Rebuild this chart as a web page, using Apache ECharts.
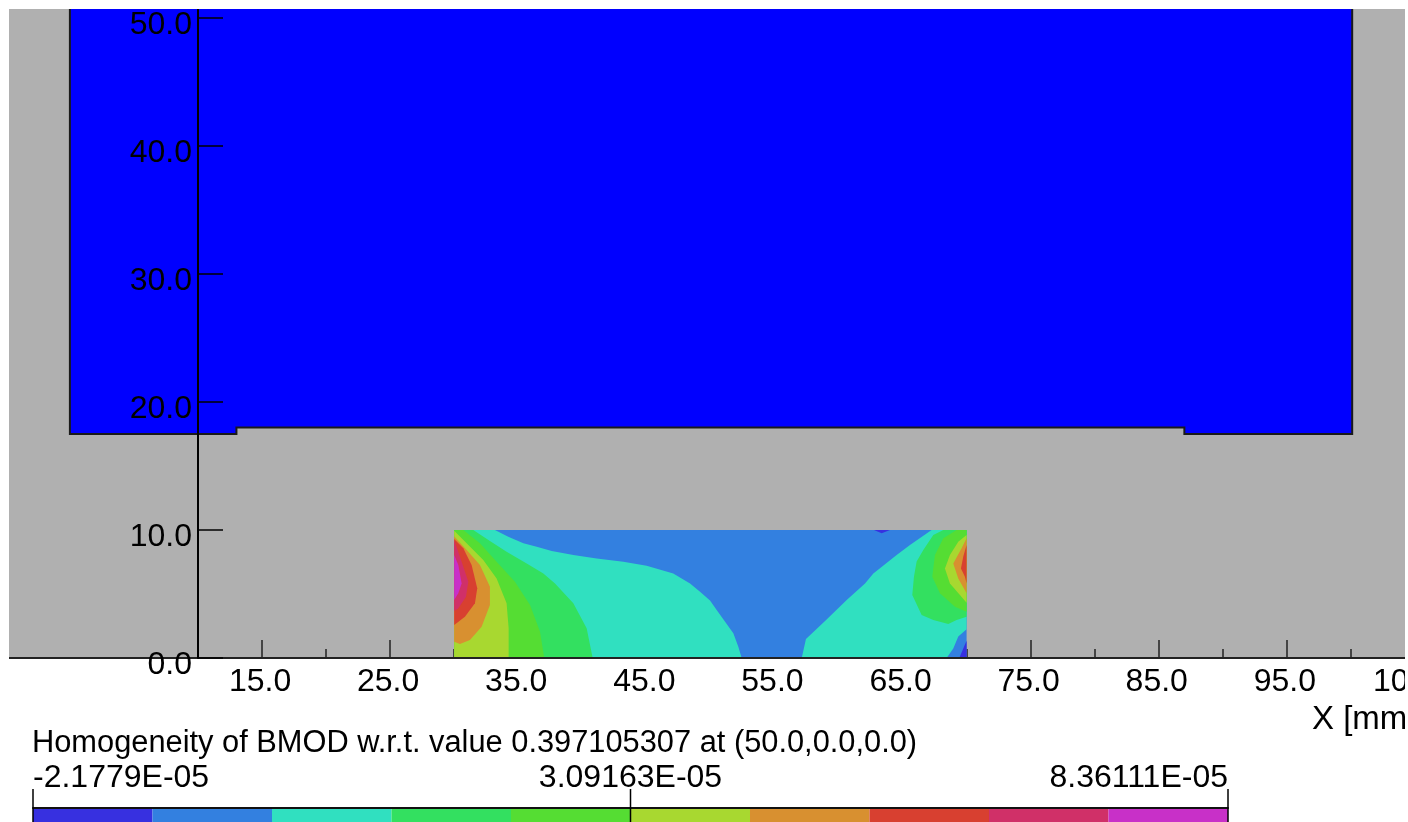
<!DOCTYPE html>
<html><head><meta charset="utf-8">
<style>html,body{margin:0;padding:0;background:#fff;overflow:hidden}
#w{position:absolute;left:9px;top:9px;width:1396px;height:813px;overflow:hidden}
#c{position:absolute;left:0;top:-29px;width:1560px;height:900px}</style>
<script src="https://cdn.jsdelivr.net/npm/echarts@6/dist/echarts.min.js"></script>
</head><body><div id="w"><div id="c"></div></div>
<script>
const titleText = 'Homogeneity of BMOD w.r.t. value 0.397105307 at (50.0,0.0,0.0)';
const xMajor = [15,25,35,45,55,65,75,85,95,105];
const xMinor = [20,30,40,50,60,70,80,90,100,110];
const yMajor = [0,10,20,30,40,50];
const classBounds = [-2.1779e-5,-1.1240e-5,-0.0701e-5,0.9838e-5,2.0377e-5,3.09163e-5,4.1455e-5,5.1994e-5,6.2533e-5,7.3072e-5,8.36111e-5];
const classColors = ['#3730E0','#3380E0','#30E0C0','#33E060','#55DD33','#A8D830','#D89030','#D84030','#D03068','#C830C8'];
const legendTicks = [-2.1779e-5,3.09163e-5,8.36111e-5];
const legendLabels = ['-2.1779E-05','3.09163E-05','8.36111E-05'];

const background = [[-5,0],[110,0],[110,52],[-5,52]];
const magnetRegion = [[0,52],[0,17.5],[13,17.5],[13,18],[87,18],[87,17.5],[100.1,17.5],[100.1,52]];
const roiRect = [[30,0],[70,0],[70,10],[30,10]];
const tealLeft = [[30,0],[52.44,0],[52.18,0.88],[51.79,1.93],[50.49,3.75],[49.97,4.5],[49.19,5.18],[48.41,5.83],[47.10,6.61],[45.02,7.21],[43.20,7.52],[41.12,7.78],[39.30,8.05],[37.61,8.36],[36.44,8.70],[35.40,8.96],[34.22,9.48],[33.18,10],[30,10]];
const greenLeft = [[30,0],[40.81,0],[40.34,2.32],[39.30,4.27],[37.87,5.83],[36.96,6.61],[35.66,7.39],[34.09,8.31],[32.79,9.14],[31.49,10],[30,10]];
const lime1Left = [[30,0],[37.03,0],[36.70,2.06],[35.92,4.14],[34.74,5.96],[33.31,7.52],[32.01,8.96],[30.71,10],[30,10]];
const yellowLeft = [[30,0],[34.25,0],[34.25,2.32],[34.09,4.27],[33.31,6.22],[32.27,7.66],[30.97,8.96],[30,9.95]];
const orangeLeft = [[30,1.27],[30.45,1.09],[31.23,1.41],[32.14,2.45],[32.79,4.14],[32.79,5.57],[32.01,7.26],[30.97,8.44],[30,9.5]];
const redLeft = [[30,2.58],[30.84,3.23],[31.62,4.27],[31.80,5.44],[31.36,7.26],[30.71,8.57],[30,9.3]];
const crimsonLeft = [[30,3.67],[30.32,3.88],[30.92,4.79],[31.10,5.96],[30.58,7.52],[30,9.2]];
const magentaLeft = [[30,4.53],[30.32,5.05],[30.58,5.83],[30.32,7.26],[30,8.05]];
const tealRight = [[57.13,0],[57.46,1.48],[58.95,2.89],[60.64,4.53],[62.07,5.83],[62.72,6.61],[64.54,8.05],[65.58,8.83],[67.27,10],[70,10],[70,2.24],[69.35,1.67],[68.96,0.75],[68.44,0]];
const greenRight = [[68.18,10],[67.40,9.61],[66.62,8.44],[66.10,7.53],[65.89,6.35],[65.76,4.92],[66.49,3.36],[67.40,2.97],[68.57,2.66],[69.22,2.97],[70,3.23],[70,10]];
const lime1Right = [[69.22,10],[68.18,9.35],[67.53,8.05],[67.32,6.35],[67.92,5.05],[69.09,4.01],[70,3.62],[70,10]];
const yellowRight = [[70,9.61],[69.35,9.09],[68.70,8.05],[68.31,7.0],[68.70,5.83],[69.48,4.92],[70,4.32]];
const orangeRight = [[70,9.35],[69.61,8.57],[68.96,7.39],[69.35,6.22],[70,5.05]];
const redRight = [[70,8.83],[69.74,7.92],[69.56,7.0],[69.87,6.35],[70,5.83]];
const indigoCorner = [[70,1.35],[69.74,0.75],[69.43,0],[70,0]];
const indigoSpot = [[62.77,10],[64.02,10],[63.37,9.74]];

const shapes = [
  [magnetRegion,'#0000FF',2],[roiRect,classColors[1],0],
  [tealLeft,classColors[2],0],[greenLeft,classColors[3],0],[lime1Left,classColors[4],0],[yellowLeft,classColors[5],0],
  [orangeLeft,classColors[6],0],[redLeft,classColors[7],0],[crimsonLeft,classColors[8],0],[magentaLeft,classColors[9],0],
  [tealRight,classColors[2],0],[greenRight,classColors[3],0],[lime1Right,classColors[4],0],[yellowRight,classColors[5],0],
  [orangeRight,classColors[6],0],[redRight,classColors[7],0],[indigoCorner,classColors[0],0],[indigoSpot,classColors[0],0]
];
const F = '"Liberation Sans", Arial, sans-serif', FS = 32;
const chart = echarts.init(document.getElementById('c'), null, {renderer:'canvas'});
const axisColor = '#222';
const polyItem = (s,api)=>({type:'polygon',shape:{points:s[0].map(q=>api.coord(q))},
  style:{fill:s[1],stroke:s[2]?'#1a1a1a':null,lineWidth:s[2]}});
chart.setOption({
  animation:false,
  backgroundColor:'transparent',
  title:{text:titleText,left:23,top:748,padding:0,textStyle:{fontFamily:F,fontSize:30.8,fontWeight:'normal',color:'#000'}},
  grid:[{left:189,top:12.4,width:1281,height:665.6,containLabel:false},{left:24,top:828,width:1195,height:40}],
  xAxis:[
    {gridIndex:0,type:'value',min:10,max:110,position:'bottom',z:1,splitLine:{show:false},
     name:'X [mm]',nameLocation:'end',nameGap:-167,nameMoveOverlap:false,
     nameTextStyle:{fontFamily:F,fontSize:33,color:'#000',align:'left',verticalAlign:'top',padding:[45,0,0,0]},
     axisLine:{show:false,onZero:false},
     axisTick:{show:true,inside:true,length:18,customValues:xMajor,lineStyle:{color:axisColor,width:1.5}},
     axisLabel:{show:true,customValues:xMajor,margin:8,padding:[0,4,0,0],hideOverlap:false,fontFamily:F,fontSize:FS,color:'#000',formatter:v=>v.toFixed(1)}},
    {gridIndex:0,type:'value',min:10,max:110,position:'bottom',z:1,splitLine:{show:false},
     axisLine:{show:false,onZero:false},axisLabel:{show:false},
     axisTick:{show:true,inside:true,length:9,customValues:xMinor,lineStyle:{color:axisColor,width:1.5}}},
    {gridIndex:1,type:'value',min:classBounds[0],max:classBounds[10],position:'top',z:5,splitLine:{show:false},
     axisLine:{show:true,onZero:false,lineStyle:{color:'#111',width:2}},
     axisTick:{show:false},
     axisLabel:{show:true,customValues:legendTicks,margin:14,alignMinLabel:'left',alignMaxLabel:'right',hideOverlap:false,fontFamily:F,fontSize:FS,color:'#000',
       formatter:v=>legendLabels[legendTicks.indexOf(v)]}}
  ],
  yAxis:[
    {gridIndex:0,type:'value',min:0,max:52,z:5,splitLine:{show:false},
     axisLine:{show:true,onZero:false,lineStyle:{color:'#000',width:2}},
     axisTick:{show:true,inside:true,length:25,customValues:yMajor,lineStyle:{color:'#000',width:1.5}},
     axisLabel:{show:true,customValues:yMajor,margin:6,hideOverlap:false,fontFamily:F,fontSize:FS,color:'#000',verticalAlign:'top',lineHeight:14,formatter:v=>v.toFixed(1)}},
    {gridIndex:1,type:'value',min:0,max:1,show:false}
  ],
  series:[
    {type:'custom',xAxisIndex:0,yAxisIndex:0,coordinateSystem:'cartesian2d',clip:false,silent:true,z:0,
     data:[[0]],
     renderItem:(p,api)=>polyItem([background,'#B0B0B0',0],api)},
    {type:'custom',xAxisIndex:0,yAxisIndex:0,coordinateSystem:'cartesian2d',clip:false,silent:true,z:2,
     data:shapes.map((s,i)=>[i]),
     renderItem:(p,api)=>polyItem(shapes[api.value(0)],api)},
    {type:'custom',xAxisIndex:0,yAxisIndex:0,coordinateSystem:'cartesian2d',clip:false,silent:true,z:3,
     data:[[-5,110]],
     renderItem:(p,api)=>{const a=api.coord([api.value(0),0]),b=api.coord([api.value(1),0]);
       return {type:'line',shape:{x1:a[0],y1:a[1],x2:b[0],y2:b[1]},style:{stroke:axisColor,lineWidth:2}};}},
    {type:'custom',xAxisIndex:2,yAxisIndex:1,coordinateSystem:'cartesian2d',clip:false,silent:true,z:2,
     data:classColors.map((c,i)=>[classBounds[i],classBounds[i+1],i]),
     renderItem:(p,api)=>{const a=api.coord([api.value(0),1]),b=api.coord([api.value(1),0]);
       return {type:'rect',shape:{x:a[0],y:a[1],width:b[0]-a[0],height:b[1]-a[1]},style:{fill:classColors[api.value(2)]}};}},
    {type:'custom',xAxisIndex:2,yAxisIndex:1,coordinateSystem:'cartesian2d',clip:false,silent:true,z:6,
     data:legendTicks.map(v=>[v]),
     renderItem:(p,api)=>{const a=api.coord([api.value(0),1]),b=api.coord([api.value(0),0]);
       return {type:'line',shape:{x1:a[0],y1:a[1]-19,x2:b[0],y2:b[1]},style:{stroke:'#000',lineWidth:1.5}};}}
  ]
});
</script></body></html>
